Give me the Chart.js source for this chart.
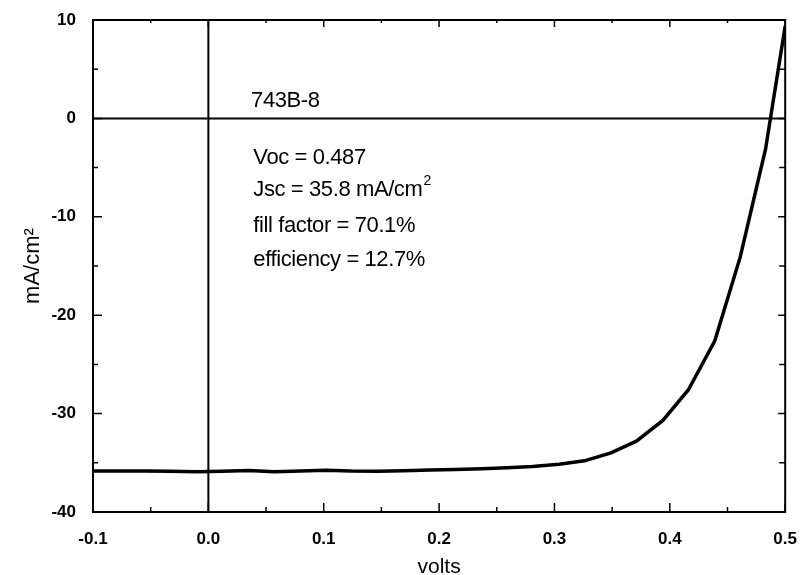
<!DOCTYPE html>
<html>
<head>
<meta charset="utf-8">
<script src="https://cdn.jsdelivr.net/npm/chart.js@4.4.0/dist/chart.umd.min.js"></script>
<style>
  body { margin: 0; background: #fff; }
  #wrap { width: 806px; height: 575px; }
</style>
</head>
<body>
<div id="wrap"><canvas id="ivChart"></canvas></div>
<script>
// I-V curve
const volts = [-0.1, -0.078, -0.055, -0.033, -0.01, 0.012, 0.035, 0.057, 0.08, 0.102,
  0.124, 0.147, 0.169, 0.192, 0.214, 0.237, 0.259, 0.281, 0.304, 0.326,
  0.349, 0.371, 0.394, 0.416, 0.439, 0.461, 0.483, 0.5];
const current = [-35.84, -35.83, -35.84, -35.87, -35.9, -35.86, -35.78, -35.92, -35.84, -35.76,
  -35.84, -35.86, -35.8, -35.74, -35.68, -35.6, -35.5, -35.38, -35.15, -34.8,
  -34.0, -32.8, -30.7, -27.6, -22.6, -14.1, -3.1, 9.4];

const xTicks = [-0.1, 0.0, 0.1, 0.2, 0.3, 0.4, 0.5];
const yTicks = [-40, -30, -20, -10, 0, 10];

const sampleName = "743B-8";
const statLines = ["Voc = 0.487", "Jsc = 35.8 mA/cm", "fill factor = 70.1%", "efficiency = 12.7%"];
// label anchors in data units (volts, mA/cm2)
const nameAt = [0.037, 1.8];
const statX = 0.039;
const statY = [-4.0, -7.3, -10.9, -14.4];

const fontFam = "'Liberation Sans', Arial, sans-serif";

// frame, zero lines, inward ticks, text
const framePlugin = {
  id: 'frame',
  beforeDatasetsDraw(chart) {
    const {ctx, chartArea: a, scales: {x, y}} = chart;
    ctx.save();
    ctx.strokeStyle = '#000';
    ctx.lineWidth = 2;
    ctx.beginPath();
    const y0 = y.getPixelForValue(0);
    ctx.moveTo(a.left, y0); ctx.lineTo(a.right, y0);
    const x0 = x.getPixelForValue(0);
    ctx.moveTo(x0, a.top); ctx.lineTo(x0, a.bottom);
    ctx.stroke();
    ctx.restore();
  },
  afterDatasetsDraw(chart) {
    const {ctx, chartArea: a, scales: {x, y}} = chart;
    ctx.save();
    ctx.strokeStyle = '#000';
    ctx.lineWidth = 2;
    ctx.strokeRect(a.left, a.top, a.right - a.left, a.bottom - a.top);
    ctx.lineWidth = 1.5;
    ctx.beginPath();
    for (let i = 0; i < xTicks.length; i++) {
      const v = xTicks[i];
      const px = x.getPixelForValue(v);
      ctx.moveTo(px, a.bottom); ctx.lineTo(px, a.bottom - 9);
      ctx.moveTo(px, a.top); ctx.lineTo(px, a.top + 7);
      if (i < xTicks.length - 1) {
        const pm = x.getPixelForValue(v + 0.05);
        ctx.moveTo(pm, a.bottom); ctx.lineTo(pm, a.bottom - 5);
        ctx.moveTo(pm, a.top); ctx.lineTo(pm, a.top + 3);
      }
    }
    for (let i = 0; i < yTicks.length; i++) {
      const v = yTicks[i];
      const py = y.getPixelForValue(v);
      ctx.moveTo(a.left, py); ctx.lineTo(a.left + 9, py);
      ctx.moveTo(a.right, py); ctx.lineTo(a.right - 7, py);
      if (i < yTicks.length - 1) {
        const pm = y.getPixelForValue(v + 5);
        ctx.moveTo(a.left, pm); ctx.lineTo(a.left + 5, pm);
        ctx.moveTo(a.right, pm); ctx.lineTo(a.right - 6, pm);
      }
    }
    ctx.stroke();

    // annotations
    ctx.fillStyle = '#000';
    ctx.textBaseline = 'middle';
    ctx.textAlign = 'left';
    ctx.letterSpacing = '-0.4px';
    ctx.font = '22px ' + fontFam;
    ctx.fillText(sampleName, x.getPixelForValue(nameAt[0]), y.getPixelForValue(nameAt[1]));
    for (let i = 0; i < statLines.length; i++) {
      const tx = x.getPixelForValue(statX);
      const ty = y.getPixelForValue(statY[i]);
      ctx.font = '22px ' + fontFam;
      ctx.fillText(statLines[i], tx, ty);
      if (i === 1) {
        const w = ctx.measureText(statLines[i]).width;
        ctx.font = '14px ' + fontFam;
        ctx.fillText('2', tx + w + 1, ty - 9);
      }
    }
    ctx.restore();
  }
};

new Chart(document.getElementById('ivChart'), {
  type: 'line',
  data: {
    datasets: [{
      data: volts.map((v, i) => ({x: v, y: current[i]})),
      borderColor: '#000',
      borderWidth: 3.5,
      pointRadius: 0,
      tension: 0,
      fill: false
    }]
  },
  options: {
    responsive: true,
    maintainAspectRatio: false,
    animation: false,
    layout: { padding: { top: 20, right: 15, left: 0, bottom: 0 } },
    plugins: { legend: { display: false }, tooltip: { enabled: false } },
    scales: {
      x: {
        type: 'linear',
        min: -0.1, max: 0.5,
        afterBuildTicks: s => { s.ticks = xTicks.map(v => ({value: v})); },
        afterFit: s => { s.height = 63; },
        grid: { display: false },
        border: { display: false },
        ticks: {
          color: '#000', padding: 9,
          font: { family: fontFam, size: 17, weight: 'bold' },
          callback: v => v.toFixed(1)
        },
        title: {
          display: true, text: 'volts', color: '#000',
          font: { family: fontFam, size: 21, lineHeight: 1 },
          padding: { top: 0, bottom: -3 }
        }
      },
      y: {
        min: -40, max: 10,
        afterBuildTicks: s => { s.ticks = yTicks.map(v => ({value: v})); },
        afterFit: s => { s.width = 93; },
        grid: { display: false },
        border: { display: false },
        ticks: {
          color: '#000', padding: 9,
          font: { family: fontFam, size: 17, weight: 'bold' }
        },
        title: {
          display: true, text: 'mA/cm\u00B2', color: '#000',
          font: { family: fontFam, size: 22, lineHeight: 1 },
          padding: { top: 22, bottom: 0 }
        }
      }
    }
  },
  plugins: [framePlugin]
});
</script>
</body>
</html>
